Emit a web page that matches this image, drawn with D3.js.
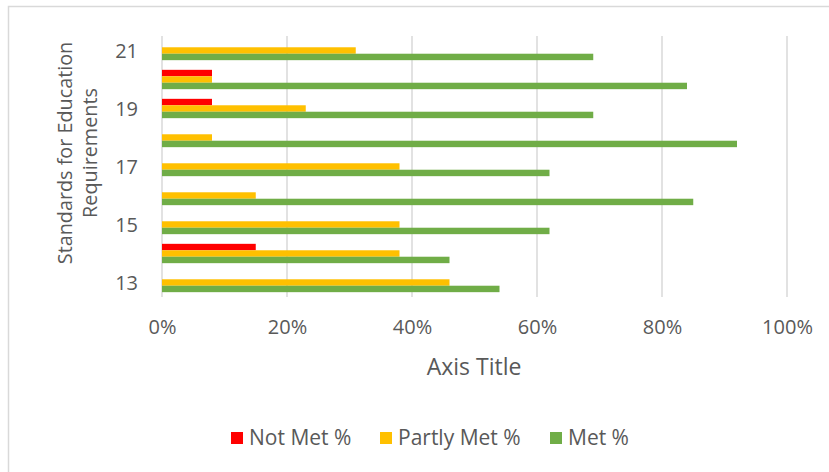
<!DOCTYPE html>
<html>
<head>
<meta charset="utf-8">
<script src="https://cdn.jsdelivr.net/npm/d3@7/dist/d3.min.js"></script>
<style>
  html, body { margin: 0; padding: 0; background: #fff; }
  svg { display: block; }
  text { font-family: "Open Sans", sans-serif; fill: #595959; }
</style>
</head>
<body>
<svg id="chart" width="829" height="472"></svg>
<script>
const categories = ["13", "14", "15", "16", "17", "18", "19", "20", "21"];
const tickLabels = ["13", "15", "17", "19", "21"];
const seriesNames = ["Not Met %", "Partly Met %", "Met %"];
const notMet    = [0,    0.15, 0,    0,    0,    0,    0.08, 0.08, 0];
const partlyMet = [0.46, 0.38, 0.38, 0.15, 0.38, 0.08, 0.23, 0.08, 0.31];
const met       = [0.54, 0.46, 0.62, 0.85, 0.62, 0.92, 0.69, 0.84, 0.69];
const xTicks = [0, 0.2, 0.4, 0.6, 0.8, 1.0];
const colors = ["#FF0000", "#FFC000", "#70AD47"];

const seriesValues = [notMet, partlyMet, met];

const svg = d3.select("#chart");

// chart area border (top + left visible)
svg.append("rect")
  .attr("x", 8.5).attr("y", 6.5)
  .attr("width", 900).attr("height", 600)
  .attr("fill", "none").attr("stroke", "#d9d9d9").attr("stroke-width", 1.5);

const plot = { left: 162, right: 787, top: 36, bottom: 297 };

const x = d3.scaleLinear().domain([0, 1]).range([plot.left, plot.right]);
const y = d3.scaleBand().domain(categories.slice().reverse()).range([plot.top, plot.bottom]).padding(0);
const ySub = d3.scaleBand().domain(seriesNames).range([0, y.bandwidth()]).paddingInner(0).paddingOuter(0.75);

// gridlines
svg.append("g").selectAll("line").data(xTicks).join("line")
  .attr("x1", d => x(d)).attr("x2", d => x(d))
  .attr("y1", plot.top).attr("y2", plot.bottom)
  .attr("stroke", "#d9d9d9").attr("stroke-width", 1.5);

// bars
const rows = categories.map((c, i) => ({ c, vals: seriesValues.map((s, k) => ({ name: seriesNames[k], v: s[i], color: colors[k] })) }));
const groups = svg.append("g").selectAll("g").data(rows).join("g")
  .attr("transform", d => `translate(0,${y(d.c)})`);
groups.selectAll("rect").data(d => d.vals.filter(v => v.v > 0)).join("rect")
  .attr("x", x(0))
  .attr("y", d => ySub(d.name))
  .attr("width", d => x(d.v) - x(0))
  .attr("height", ySub.bandwidth())
  .attr("fill", d => d.color);

// x axis labels
const xAxis = d3.axisBottom(x).tickValues(xTicks).tickFormat(d3.format(".0%")).tickSize(0).tickPadding(0);
const gx = svg.append("g").attr("transform", `translate(0,${plot.bottom})`).call(xAxis);
gx.select(".domain").remove();
gx.selectAll("text").attr("font-size", 20).attr("dy", null).attr("y", 37)
  .style("font-family", "'Open Sans', sans-serif").attr("fill", "#595959");

// y axis labels
const yAxis = d3.axisLeft(y).tickValues(tickLabels).tickSize(0).tickPadding(0);
const gy = svg.append("g").attr("transform", `translate(138,0)`).call(yAxis);
gy.select(".domain").remove();
gy.selectAll("text").attr("font-size", 20).attr("dy", "0.35em").attr("x", 0)
  .style("font-family", "'Open Sans', sans-serif").attr("fill", "#595959");

// axis titles
svg.append("text").attr("x", 474).attr("y", 375).attr("text-anchor", "middle")
  .attr("font-size", 23).text("Axis Title");

const yt = svg.append("text").attr("transform", "translate(0,153) rotate(-90)")
  .attr("text-anchor", "middle").attr("font-size", 19.8);
yt.append("tspan").attr("x", 0).attr("y", 72).text("Standards for Education");
yt.append("tspan").attr("x", 0).attr("y", 97).text("Requirements");

// legend
const legendX = [231, 380, 550];
const lg = svg.append("g").selectAll("g").data(seriesNames).join("g")
  .attr("transform", (d, i) => `translate(${legendX[i]},432)`);
lg.append("rect").attr("width", 12).attr("height", 12).attr("fill", (d, i) => colors[i]);
lg.append("text").attr("x", 18).attr("y", 6).attr("dy", "0.35em").attr("font-size", 21).text(d => d);
</script>
</body>
</html>
